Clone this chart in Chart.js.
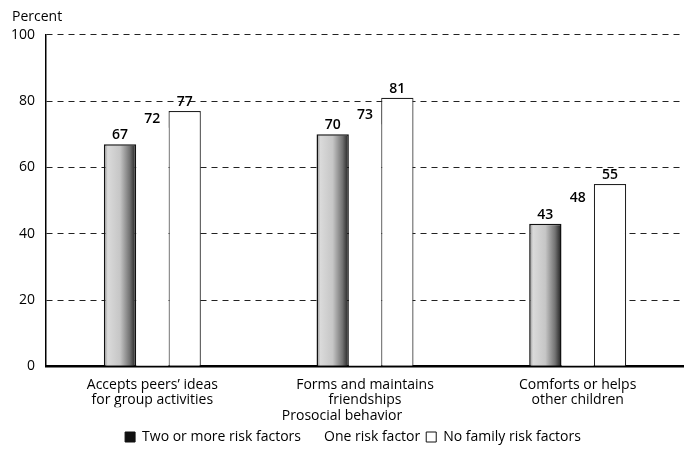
<!DOCTYPE html>
<html>
<head>
<meta charset="utf-8">
<script src="https://cdn.jsdelivr.net/npm/chart.js@4.4.0/dist/chart.umd.min.js"></script>
<style>
  html, body { margin: 0; padding: 0; background: #fff; }
  #wrap { width: 684px; height: 449px; }
</style>
</head>
<body>
<div id="wrap"><canvas id="chart"></canvas></div>
<script>
// values
const categories = [
    ['Accepts peers\u2019 ideas', 'for group activities'],
    ['Forms and maintains', 'friendships'],
    ['Comforts or helps', 'other children']
];
const seriesNames = ['Two or more risk factors', 'One risk factor', 'No family risk factors'];
const twoOrMore = [67, 70, 43];
const oneRisk = [72, 73, 48];
const noRisk = [77, 81, 55];
const yTicks = [0, 20, 40, 60, 80, 100];

const FONT = "'Open Sans', sans-serif";
const LEGEND_SHIFT = 11;
const TITLE_SHIFT = 12;

// stippled grey look of the first series
const shadePlugin = {
    id: 'shade',
    beforeDatasetsDraw(chart) {
        const ctx = chart.ctx;
        chart.getDatasetMeta(0).data.forEach(bar => {
            const x0 = bar.x - bar.width / 2;
            const x1 = bar.x + bar.width / 2;
            const g = ctx.createLinearGradient(x0, 0, x1, 0);
            g.addColorStop(0, '#8a8a8a');
            g.addColorStop(0.12, '#dadada');
            g.addColorStop(0.5, '#c6c6c6');
            g.addColorStop(0.8, '#737373');
            g.addColorStop(1, '#1c1c1c');
            bar.options = Object.assign({}, bar.options, { backgroundColor: g });
        });
    }
};

const valueLabels = {
    id: 'valueLabels',
    afterDatasetsDraw(chart) {
        const ctx = chart.ctx;
        ctx.save();
        ctx.font = `600 14px ${FONT}`;
        ctx.fillStyle = '#000';
        ctx.textAlign = 'center';
        ctx.textBaseline = 'bottom';
        chart.data.datasets.forEach((ds, i) => {
            chart.getDatasetMeta(i).data.forEach((bar, j) => {
                ctx.fillText(ds.data[j], bar.x, bar.y - 2);
            });
        });
        ctx.restore();
    }
};

// legend and "Percent" sit a little off the layout's own spots
const nudge = {
    id: 'nudge',
    afterLayout(chart) {
        chart.legend.left += LEGEND_SHIFT;
        chart.legend.right += LEGEND_SHIFT;
        chart.titleBlock.left += TITLE_SHIFT;
        chart.titleBlock.right += TITLE_SHIFT;
    }
};

const legendFills = ['#111', '#fff', '#fff'];
const legendStrokes = ['#111', '#fff', '#111'];
const legendWidths = [1, 0, 1];

new Chart(document.getElementById('chart'), {
    type: 'bar',
    data: {
        labels: categories,
        datasets: [
            { label: seriesNames[0], data: twoOrMore, backgroundColor: '#9a9a9a', borderColor: '#111', borderWidth: 1.5 },
            { label: seriesNames[1], data: oneRisk, backgroundColor: '#fff', borderWidth: 0 },
            { label: seriesNames[2], data: noRisk, backgroundColor: '#fff', borderColor: '#222', borderWidth: 1.2 }
        ]
    },
    plugins: [shadePlugin, valueLabels, nudge],
    options: {
        responsive: true,
        maintainAspectRatio: false,
        animation: false,
        devicePixelRatio: 1,
        layout: { padding: { left: 0, right: 0, top: 9, bottom: -5 } },
        datasets: {
            bar: { categoryPercentage: 0.456, barPercentage: 1, borderSkipped: 'bottom' }
        },
        plugins: {
            tooltip: { enabled: false },
            title: {
                display: true,
                text: 'Percent',
                position: 'top',
                align: 'start',
                color: '#000',
                font: { family: FONT, size: 14, weight: '500' },
                padding: { top: 0, bottom: 9 }
            },
            subtitle: {
                display: true,
                text: 'Prosocial behavior',
                position: 'bottom',
                color: '#000',
                font: { family: FONT, size: 14, weight: '500' },
                padding: { top: 0, bottom: 0 }
            },
            legend: {
                position: 'bottom',
                weight: 3000,
                labels: {
                    color: '#000',
                    font: { family: FONT, size: 14, weight: '500' },
                    boxWidth: 10,
                    boxHeight: 10,
                    padding: 6,
                    generateLabels: chart => chart.data.datasets.map((ds, i) => ({
                        text: ds.label,
                        fillStyle: legendFills[i],
                        strokeStyle: legendStrokes[i],
                        lineWidth: legendWidths[i],
                        hidden: false,
                        datasetIndex: i,
                        fontColor: '#000'
                    }))
                }
            }
        },
        scales: {
            x: {
                grid: { display: false, drawTicks: false },
                border: { display: true, color: '#000', width: 2.5 },
                afterFit: scale => { scale.height -= 12; },
                ticks: {
                    color: '#000',
                    font: { family: FONT, size: 14, weight: '500', lineHeight: 1.1 },
                    padding: 11,
                    maxRotation: 0,
                    autoSkip: false
                }
            },
            y: {
                min: 0,
                max: 100,
                afterBuildTicks: scale => { scale.ticks = yTicks.map(v => ({ value: v })); },
                grid: { color: '#222', lineWidth: 1.1, drawTicks: false },
                border: { display: true, color: '#000', width: 1.5, dash: [6, 5] },
                ticks: {
                    color: '#000',
                    font: { family: FONT, size: 14, weight: '500' },
                    padding: 11
                }
            }
        }
    }
});
</script>
</body>
</html>
